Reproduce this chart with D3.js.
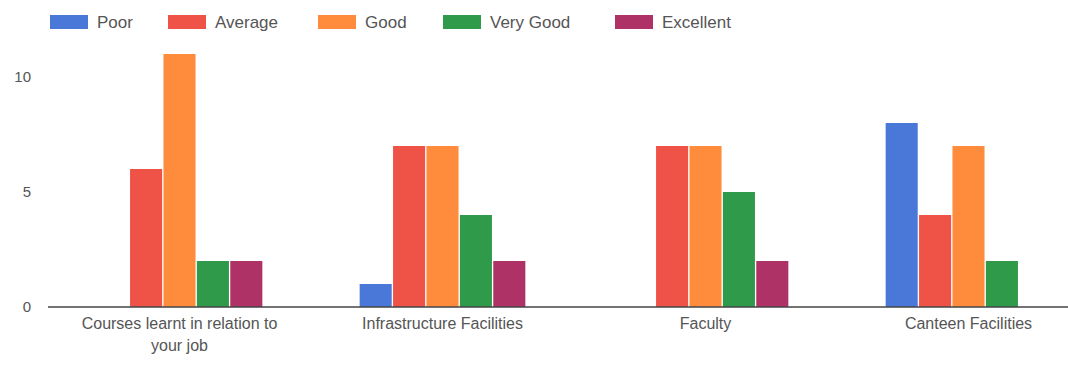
<!DOCTYPE html>
<html>
<head>
<meta charset="utf-8">
<script src="https://cdn.jsdelivr.net/npm/d3@7"></script>
<style>
  body { margin: 0; background: #fff; }
  #chart { width: 1068px; height: 368px; }
</style>
</head>
<body>
<div id="chart"></div>
<script>
// grouped bars - feedback ratings per category

var categories = [
    ['Courses learnt in relation to', 'your job'],
    ['Infrastructure Facilities'],
    ['Faculty'],
    ['Canteen Facilities']
];
var ratings = ['Poor', 'Average', 'Good', 'Very Good', 'Excellent'];
var colors = ['#4a78d8', '#ef5246', '#ff8c3c', '#2f9a4a', '#ae3265'];

var poor = [0, 1, 0, 8];
var average = [6, 7, 7, 4];
var good = [11, 7, 7, 7];
var veryGood = [2, 4, 5, 2];
var excellent = [2, 2, 2, 0];
var yTicks = [0, 5, 10];

var series = [poor, average, good, veryGood, excellent];
var catNames = categories.map(function(c) { return c.join(' '); });

var width = 1068, height = 368;
var svg = d3.select('#chart').append('svg')
    .attr('width', width)
    .attr('height', height);

var x0 = d3.scaleBand()
    .domain(catNames)
    .range([48, 1100])
    .paddingInner(0.37)
    .paddingOuter(0.185);

var x1 = d3.scaleBand()
    .domain(ratings)
    .range([0, x0.bandwidth()])
    .paddingInner(0.04);

var y = d3.scaleLinear()
    .domain([0, 10])
    .range([307, 77]);

// y axis labels (no line)
var yAxis = svg.append('g')
    .attr('transform', 'translate(31,0)')
    .call(d3.axisLeft(y).tickValues(yTicks).tickSize(0).tickPadding(0));
yAxis.select('.domain').remove();
yAxis.selectAll('text')
    .attr('fill', '#555')
    .style('font-family', 'Arial, Liberation Sans, sans-serif')
    .style('font-size', '15px');

// bars
var groups = svg.append('g').selectAll('g')
    .data(catNames)
    .enter()
    .append('g')
    .attr('transform', function(d) { return 'translate(' + x0(d) + ',0)'; });

groups.selectAll('rect')
    .data(function(d, i) {
        return ratings.map(function(r, k) { return { key: r, idx: k, value: series[k][i] }; });
    })
    .enter()
    .append('rect')
    .attr('x', function(d) { return x1(d.key); })
    .attr('y', function(d) { return y(d.value); })
    .attr('width', x1.bandwidth())
    .attr('height', function(d) { return y(0) - y(d.value); })
    .attr('fill', function(d) { return colors[d.idx]; });

// baseline
svg.append('line')
    .attr('x1', 48).attr('x2', width)
    .attr('y1', y(0)).attr('y2', y(0))
    .attr('stroke', '#444')
    .attr('stroke-width', 1.5);

// x labels
var xl = svg.append('g').selectAll('text')
    .data(categories)
    .enter()
    .append('text')
    .attr('x', function(d, i) { return x0(catNames[i]) + x0.bandwidth() / 2; })
    .attr('y', 329)
    .attr('text-anchor', 'middle')
    .attr('fill', '#555')
    .style('font-family', 'Arial, Liberation Sans, sans-serif')
    .style('font-size', '16px');
xl.each(function(d) {
    var t = d3.select(this);
    d.forEach(function(line, j) {
        t.append('tspan')
            .attr('x', t.attr('x'))
            .attr('dy', j === 0 ? 0 : 22)
            .text(line);
    });
});

// legend
var legendX = [50, 168, 318, 443, 615];
var legend = svg.append('g').selectAll('g')
    .data(ratings)
    .enter()
    .append('g')
    .attr('transform', function(d, i) { return 'translate(' + legendX[i] + ',15)'; });
legend.append('rect')
    .attr('width', 38)
    .attr('height', 14)
    .attr('fill', function(d, i) { return colors[i]; });
legend.append('text')
    .attr('x', 47)
    .attr('y', 13)
    .attr('fill', '#555')
    .style('font-family', 'Arial, Liberation Sans, sans-serif')
    .style('font-size', '17px')
    .text(function(d) { return d; });
</script>
</body>
</html>
